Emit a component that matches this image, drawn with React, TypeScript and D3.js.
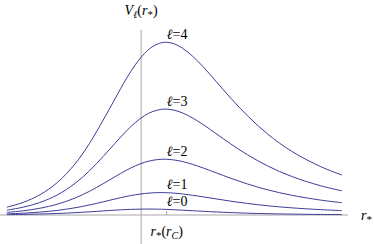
import React from "react";
import * as d3 from "d3";

// tortoise coordinate r* (units of M) and potential values
const rStar = [-7.98, -7.0, -6.0, -4.95, -3.89, -3.03, -2.2, -1.49, -0.82, -0.27, 0.28, 0.79, 1.3, 1.61, 2.04, 2.56, 3.15, 3.8, 4.58, 5.47, 6.46, 7.68, 9.11, 10.86, 12.12];
const V4 = [0.0347, 0.0559, 0.0895, 0.1439, 0.2262, 0.3159, 0.4203, 0.5146, 0.6028, 0.6656, 0.7158, 0.7475, 0.7635, 0.7654, 0.7592, 0.7396, 0.7049, 0.657, 0.5921, 0.517, 0.4399, 0.3582, 0.2825, 0.2142, 0.1774];
const V3 = [0.0215, 0.0346, 0.0554, 0.089, 0.1399, 0.1952, 0.2594, 0.3173, 0.3713, 0.4096, 0.44, 0.459, 0.4683, 0.4691, 0.4649, 0.4524, 0.4306, 0.4008, 0.3606, 0.3144, 0.2671, 0.2172, 0.1711, 0.1295, 0.1072];
const V2 = [0.0116, 0.0186, 0.0298, 0.0479, 0.0751, 0.1046, 0.1388, 0.1694, 0.1977, 0.2176, 0.2332, 0.2426, 0.2469, 0.2469, 0.2441, 0.2369, 0.2248, 0.2086, 0.1871, 0.1625, 0.1376, 0.1114, 0.0875, 0.066, 0.0545];
const V1 = [0.005, 0.008, 0.0127, 0.0204, 0.0319, 0.0442, 0.0583, 0.0708, 0.082, 0.0896, 0.0953, 0.0984, 0.0993, 0.0988, 0.097, 0.0933, 0.0876, 0.0805, 0.0714, 0.0612, 0.0512, 0.0409, 0.0318, 0.0237, 0.0194];
const V0 = [0.0016, 0.0026, 0.0042, 0.0067, 0.0103, 0.014, 0.0181, 0.0214, 0.0241, 0.0256, 0.0263, 0.0262, 0.0255, 0.0247, 0.0234, 0.0214, 0.0191, 0.0164, 0.0135, 0.0106, 0.008, 0.0057, 0.0039, 0.0025, 0.0019];
const ells = ["4", "3", "2", "1", "0"];
const series = [V4, V3, V2, V1, V0];
const axisCross = 0.08;
const tickR = 1.614;

const W = 374;
const H = 244;

export default function App() {
  const x = d3.scaleLinear().domain([-8, 12.1]).range([6.5, 341.4]);
  const y = d3.scaleLinear().domain([0, d3.max(V4) as number]).range([215, 42.3]);
  const line = d3
    .line<number>()
    .x((_, i) => x(rStar[i]))
    .y((d) => y(d))
    .curve(d3.curveCatmullRom.alpha(0.5));
  const axisColor = "#a6a6a6";
  const curveColor = "#3d3d99";
  const font = "'Liberation Serif', 'DejaVu Serif', serif";
  const tStyle = { fontFamily: font };
  const x0 = x(axisCross);
  const y0 = y(0);
  const star = (
    <tspan fontSize={11} dy={3}>
      *
    </tspan>
  );
  return (
    <svg
      width={W}
      height={H}
      style={{ position: "absolute", left: 0, top: 0, background: "#fff" }}
    >
      <line x1={0} x2={x(12.5)} y1={y0} y2={y0} stroke={axisColor} strokeWidth={1} />
      <line x1={x0} x2={x0} y1={30} y2={H} stroke={axisColor} strokeWidth={1} />
      <line x1={x(tickR)} x2={x(tickR)} y1={y0} y2={y0 - 4} stroke={axisColor} strokeWidth={1} />
      {series.map((s, k) => (
        <path key={k} d={line(s) || ""} fill="none" stroke={curveColor} strokeWidth={1} />
      ))}
      {series.map((s, k) => (
        <text key={"l" + k} x={x(tickR)} y={y(d3.max(s) as number) - 3.5} fontSize={14} fill="#000" style={tStyle}>
          <tspan fontStyle="italic">ℓ</tspan>
          <tspan>={ells[k]}</tspan>
        </text>
      ))}
      <text x={x0} y={15} fontSize={14} textAnchor="middle" fill="#000" style={tStyle}>
        <tspan fontStyle="italic">V</tspan>
        <tspan fontStyle="italic" fontSize={10} dy={3}>ℓ</tspan>
        <tspan dy={-3}>(</tspan>
        <tspan fontStyle="italic">r</tspan>
        {star}
        <tspan dy={-3}>)</tspan>
      </text>
      <text x={x(tickR)} y={236} fontSize={14} textAnchor="middle" fill="#000" style={tStyle}>
        <tspan fontStyle="italic">r</tspan>
        {star}
        <tspan dy={-3}>(</tspan>
        <tspan fontStyle="italic">r</tspan>
        <tspan fontStyle="italic" fontSize={10} dy={3}>C</tspan>
        <tspan dy={-3}>)</tspan>
      </text>
      <text x={361} y={220} fontSize={14} fill="#000" style={tStyle}>
        <tspan fontStyle="italic">r</tspan>
        {star}
      </text>
    </svg>
  );
}
